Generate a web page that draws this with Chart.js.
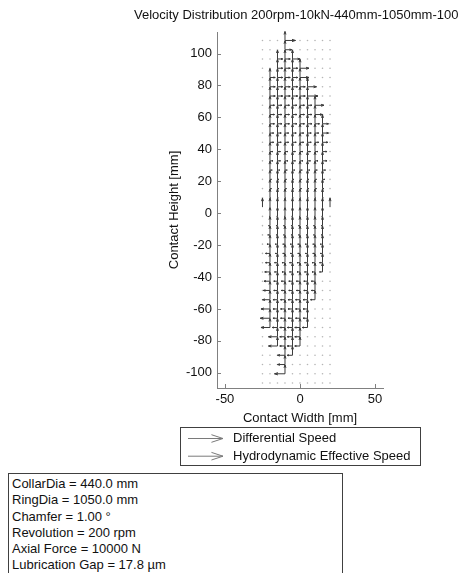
<!DOCTYPE html>
<html>
<head>
<meta charset="utf-8">
<script src="https://cdn.jsdelivr.net/npm/chart.js@4.4.1/dist/chart.umd.min.js"></script>
<style>
  html, body { margin: 0; padding: 0; background: #fff; }
  body { width: 458px; height: 573px; position: relative; overflow: hidden; font-family: 'Liberation Sans', Arial, sans-serif; }
  #wrap { position: absolute; left: 0; top: 0; width: 458px; height: 573px; }
  #params { position: absolute; left: 8px; top: 473px; width: 335px; height: 130px; border: 1px solid #404040;
            box-sizing: border-box; padding: 2px 0 0 3px; font-size: 13px; line-height: 16.3px; color: #111; background: #fff; }
</style>
</head>
<body>
<div id="wrap"><canvas id="quiverChart"></canvas></div>
<div id="params"></div>
<script>
const chartTitle = 'Velocity Distribution 200rpm-10kN-440mm-1050mm-100';
const seriesLabels = ['Differential Speed', 'Hydrodynamic Effective Speed'];
const xTicks = [-50, 0, 50];
const yTicks = [-100, -80, -60, -40, -20, 0, 20, 40, 60, 80, 100];
const paramLines = [
  'CollarDia = 440.0 mm',
  'RingDia = 1050.0 mm',
  'Chamfer = 1.00 °',
  'Revolution = 200 rpm',
  'Axial Force = 10000 N',
  'Lubrication Gap = 17.8 µm'
];

// measurement grid [mm]
const colX = [-25, -20, -15, -10, -5, 0, 5, 10, 15, 20];
const rowY = [114, 108.2, 102.4, 96.6, 90.8, 85, 79.2, 73.4, 67.6, 61.8, 56, 50.2, 44.4,
  38.6, 32.8, 27, 21.2, 15.4, 9.6, 3.8, -2, -7.8, -13.6, -19.4, -25.2, -31, -36.8,
  -42.6, -48.4, -54.2, -60, -65.8, -71.6, -77.4, -83.2, -89, -94.8, -100.6, -106.4];

// contact extent of each row (first / last column in contact), null = no contact
const rowFrom = [null, -10, -10, -15, -15, -20, -20, -20, -20, -20, -20, -20, -20,
  -20, -20, -20, -20, -20, -20, -25, -20, -20, -20, -20, -20, -20, -20,
  -20, -20, -20, -20, -20, -20, -15, -15, -10, -10, -10, null];
const rowTo = [null, -10, -10, -5, 0, 0, 5, 5, 10, 10, 15, 15, 15,
  15, 15, 15, 15, 15, 15, 20, 15, 15, 15, 15, 15, 15, 15,
  10, 10, 10, 5, 5, 5, 0, 0, -5, -10, -10, null];

// differential speed (horizontal) inside the contact and at its leading edge
const diffU = [0, 7, 4.5, 3.5, 3.5, 3.5, 3.5, 3.5, 3, 3, 3, 2.5, 2.5,
  2, 2, 1.5, 1, 1, 0.5, 0, -0.5, -1, -1, -1.5, -1.5, -2, -2,
  -2.5, -2.5, -3, -3, -3, -3.5, -3.5, -3.5, -3.5, -4.5, -7, 0];
const edgeU = [0, 7, 4.5, 5, 6, 6, 6, 7, 6, 5, 4, 4, 3.5,
  3, 3, 2, 1.5, 1, 0.5, 0, -0.5, -1, -1.5, -2, -3, -3, -3.5,
  -4, -4.5, -5, -6, -6.5, -6, -6, -6, -5, -5, -7, 0];
// hydrodynamic effective speed (vertical)
const effV = [0, 5.6, 5.6, 5.6, 5.6, 5.6, 5.6, 5.6, 5.6, 5.6, 5.6, 5.6, 5.6,
  5.6, 5.6, 5.6, 5.6, 5.6, 5.6, 5.6, 5.6, 5.6, 5.6, 5.6, 5.6, 5.6, 5.6,
  5.6, 5.6, 5.6, 5.6, 5.6, 5.6, 5.6, 5.6, 5.6, 5.6, 5.6, 0];

const diffPts = [], effPts = [], idlePts = [];
rowY.forEach((y, r) => {
  colX.forEach(x => {
    const inside = rowFrom[r] !== null && x >= rowFrom[r] && x <= rowTo[r];
    if (!inside) { idlePts.push({ x, y }); return; }
    const lead = diffU[r] >= 0 ? rowTo[r] : rowFrom[r];
    diffPts.push({ x, y, u: x === lead ? edgeU[r] : diffU[r], v: 0 });
    effPts.push({ x, y, u: 0, v: effV[r] });
  });
});

document.getElementById('params').innerHTML = paramLines.map(t => '<div>' + t + '</div>').join('');

const FONT = "'Liberation Sans', Arial, sans-serif";
const ARROW = '#3a3a3a';

// matlab-like arrow: shaft plus two head strokes
function drawArrow(ctx, x0, y0, x1, y1) {
  const u = x1 - x0, v = y1 - y0, a = 0.33, b = 0.33;
  ctx.beginPath();
  ctx.moveTo(x0, y0);
  ctx.lineTo(x1, y1);
  ctx.moveTo(x1 - a * (u + b * v), y1 - a * (v - b * u));
  ctx.lineTo(x1, y1);
  ctx.lineTo(x1 - a * (u - b * v), y1 - a * (v + b * u));
  ctx.stroke();
}

const quiverPlugin = {
  id: 'quiver',
  afterDatasetsDraw(chart) {
    const { ctx, chartArea, scales: { x, y } } = chart;
    ctx.save();
    ctx.beginPath();
    ctx.rect(chartArea.left, chartArea.top - 2, chartArea.width, chartArea.height + 2);
    ctx.clip();
    chart.data.datasets.forEach(ds => {
      if (!ds.quiver) return;
      ctx.strokeStyle = ds.borderColor;
      ctx.lineWidth = ds.borderWidth;
      ds.data.forEach(p => {
        if (!p.u && !p.v) return;
        drawArrow(ctx, x.getPixelForValue(p.x), y.getPixelForValue(p.y),
          x.getPixelForValue(p.x + p.u), y.getPixelForValue(p.y + p.v));
      });
    });
    ctx.restore();
  }
};

const decorPlugin = {
  id: 'decor',
  afterDraw(chart) {
    const { ctx, chartArea, scales: { x, y } } = chart;
    ctx.save();
    // title
    ctx.fillStyle = '#111';
    ctx.font = '13px ' + FONT;
    ctx.textBaseline = 'middle';
    ctx.textAlign = 'left';
    ctx.fillText(chartTitle, 134, 15);

    // inward tick marks
    ctx.strokeStyle = '#808080';
    ctx.lineWidth = 1;
    ctx.beginPath();
    x.ticks.forEach(t => {
      const px = Math.round(x.getPixelForValue(t.value)) + 0.5;
      ctx.moveTo(px, chartArea.bottom);
      ctx.lineTo(px, chartArea.bottom - 4);
    });
    y.ticks.forEach(t => {
      const py = Math.round(y.getPixelForValue(t.value)) + 0.5;
      ctx.moveTo(chartArea.left, py);
      ctx.lineTo(chartArea.left + 4, py);
    });
    ctx.stroke();

    // legend box
    const lx = 180.5, ly = 427.5, lw = 240, lh = 38;
    ctx.strokeStyle = '#404040';
    ctx.strokeRect(lx, ly, lw, lh);
    chart.data.datasets.filter(ds => ds.quiver).forEach((ds, i) => {
      const cy = 438.5 + i * 17.7;
      ctx.strokeStyle = '#7a7a7a';
      drawArrow(ctx, 188, cy, 223, cy);
      ctx.fillStyle = '#111';
      ctx.fillText(ds.label, 233, cy);
    });
    ctx.restore();
  }
};

new Chart(document.getElementById('quiverChart'), {
  type: 'scatter',
  data: {
    datasets: [
      { label: seriesLabels[0], data: diffPts, quiver: true, borderColor: ARROW, borderWidth: 1, pointRadius: 0 },
      { label: seriesLabels[1], data: effPts, quiver: true, borderColor: ARROW, borderWidth: 1, pointRadius: 0 },
      { label: 'idle', data: idlePts, pointRadius: 0.8, backgroundColor: '#b5b5b5', borderWidth: 0 }
    ]
  },
  options: {
    responsive: true,
    maintainAspectRatio: false,
    animation: false,
    events: [],
    layout: { padding: { left: 160, right: 75, top: 32, bottom: 147 } },
    font: { family: FONT, size: 13 },
    plugins: { legend: { display: false }, tooltip: { enabled: false } },
    scales: {
      x: {
        type: 'linear', min: -55.3, max: 55.3,
        afterBuildTicks: s => { s.ticks = xTicks.map(v => ({ value: v })); },
        afterFit: s => { s.height = 38; },
        grid: { display: false, drawTicks: false },
        border: { color: '#808080' },
        ticks: { padding: 4, color: '#111', font: { family: FONT, size: 13 } },
        title: { display: true, text: 'Contact Width [mm]', color: '#111', font: { family: FONT, size: 13 }, padding: { top: 3, bottom: 0 } }
      },
      y: {
        type: 'linear', min: -109.5, max: 113.5,
        afterBuildTicks: s => { s.ticks = yTicks.map(v => ({ value: v })); },
        afterFit: s => { s.width = 57; },
        grid: { display: false, drawTicks: false },
        border: { color: '#808080' },
        ticks: { padding: 5, color: '#111', font: { family: FONT, size: 13 } },
        title: { display: true, text: 'Contact Height [mm]', color: '#111', font: { family: FONT, size: 13 }, padding: { top: 7, bottom: 0 } }
      }
    }
  },
  plugins: [quiverPlugin, decorPlugin]
});
</script>
</body>
</html>
